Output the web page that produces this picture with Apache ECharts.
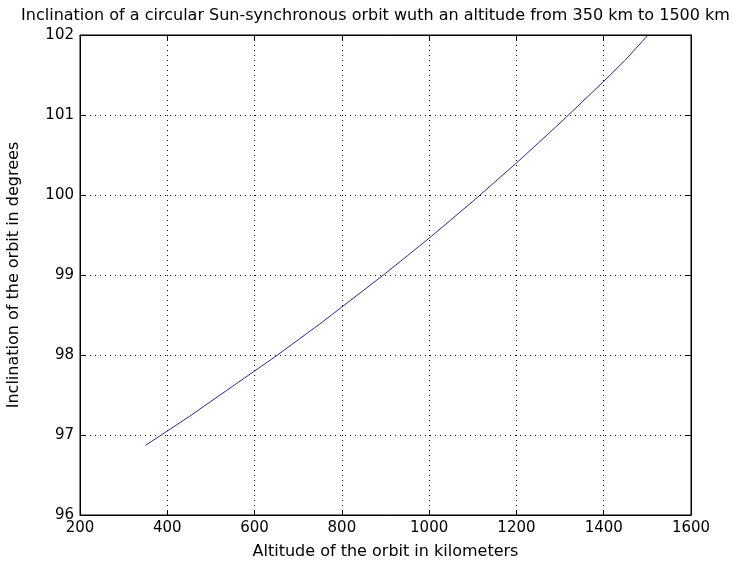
<!DOCTYPE html>
<html>
<head>
<meta charset="utf-8">
<script src="https://cdn.jsdelivr.net/npm/echarts@6/dist/echarts.min.js"></script>
<style>
  html, body { margin: 0; padding: 0; background: #fff; }
  #chart { width: 751px; height: 565px; }
</style>
</head>
<body>
<div id="chart"></div>
<script>
// altitude (km) and inclination (deg)
var altitude = [350, 400, 450, 500, 550, 600, 650, 700, 750, 800, 850, 900,
                950, 1000, 1050, 1100, 1150, 1200, 1250, 1300, 1350, 1400, 1450, 1500];
var inclination = [96.87, 97.05, 97.23, 97.42, 97.61, 97.80, 97.99, 98.19, 98.39, 98.60, 98.81, 99.02,
                   99.24, 99.46, 99.69, 99.92, 100.16, 100.40, 100.65, 100.90, 101.16, 101.42, 101.69, 101.99];

var xTicks = [200, 400, 600, 800, 1000, 1200, 1400, 1600];
var yTicks = [96, 97, 98, 99, 100, 101, 102];

var points = altitude.map(function (a, i) { return [a, inclination[i]]; });

var font = 'DejaVu Sans, sans-serif';
var plain = function (v) { return String(v); };

var myChart = echarts.init(document.getElementById('chart'));

var option = {
    animation: false,
    backgroundColor: '#fff',
    title: {
        text: 'Inclination of a circular Sun-synchronous orbit wuth an altitude from 350 km to 1500 km',
        left: 'center',
        top: 3,
        textStyle: { fontFamily: font, fontSize: 16, fontWeight: 'normal', color: '#000' }
    },
    grid: {
        left: 80, right: 60, top: 35, bottom: 50,
        outerBoundsMode: 'none',
        show: true,
        borderColor: '#000',
        borderWidth: 1
    },
    xAxis: [
        {
            type: 'value',
            min: xTicks[0],
            max: xTicks[xTicks.length - 1],
            interval: 200,
            name: 'Altitude of the orbit in kilometers',
            nameLocation: 'middle',
            nameGap: 29,
            nameTextStyle: { fontFamily: font, fontSize: 16, color: '#000' },
            axisLine: { show: true, lineStyle: { color: '#000' } },
            axisTick: { show: true, inside: true, length: 5, lineStyle: { color: '#000' } },
            axisLabel: { fontFamily: font, fontSize: 15, color: '#000', margin: 6, formatter: plain },
            splitLine: { show: true, lineStyle: { type: [1, 4], color: '#000' } }
        },
        {
            type: 'value',
            position: 'top',
            min: xTicks[0],
            max: xTicks[xTicks.length - 1],
            interval: 200,
            axisLine: { show: true, lineStyle: { color: '#000' } },
            axisTick: { show: true, inside: true, length: 5, lineStyle: { color: '#000' } },
            axisLabel: { show: false },
            splitLine: { show: false }
        }
    ],
    yAxis: [
        {
            type: 'value',
            min: yTicks[0],
            max: yTicks[yTicks.length - 1],
            interval: 1,
            name: 'Inclination of the orbit in degrees',
            nameLocation: 'middle',
            nameGap: 58,
            nameTextStyle: { fontFamily: font, fontSize: 16, color: '#000' },
            axisLine: { show: true, lineStyle: { color: '#000' } },
            axisTick: { show: true, inside: true, length: 5, lineStyle: { color: '#000' } },
            axisLabel: { fontFamily: font, fontSize: 15, color: '#000', margin: 6, formatter: plain },
            splitLine: { show: true, lineStyle: { type: [1, 4], color: '#000' } }
        },
        {
            type: 'value',
            position: 'right',
            min: yTicks[0],
            max: yTicks[yTicks.length - 1],
            interval: 1,
            axisLine: { show: true, lineStyle: { color: '#000' } },
            axisTick: { show: true, inside: true, length: 5, lineStyle: { color: '#000' } },
            axisLabel: { show: false },
            splitLine: { show: false }
        }
    ],
    series: [
        {
            type: 'line',
            data: points,
            showSymbol: false,
            smooth: false,
            lineStyle: { color: '#2b2b86', width: 1 }
        }
    ]
};

myChart.setOption(option);
</script>
</body>
</html>
